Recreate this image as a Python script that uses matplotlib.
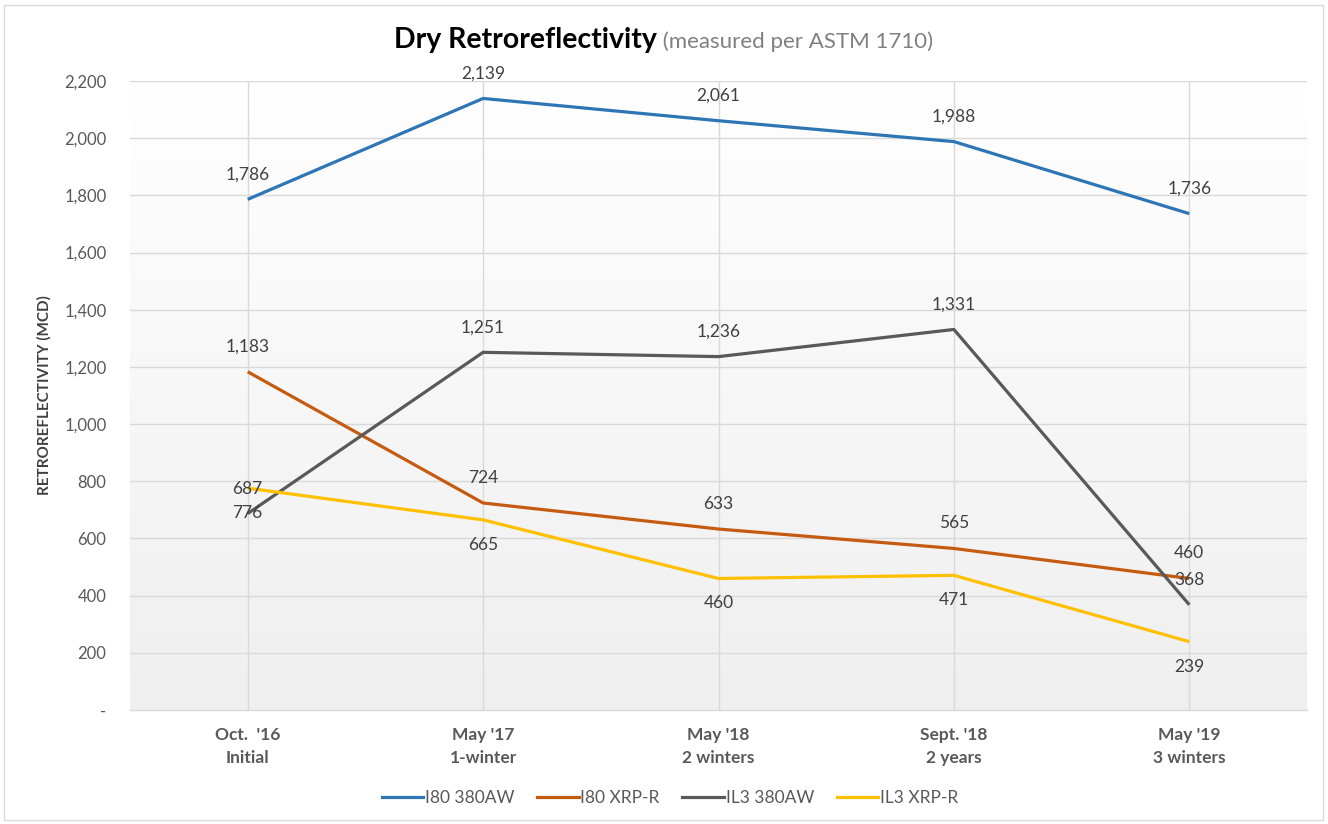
import matplotlib
matplotlib.use("Agg")
import matplotlib.pyplot as plt
import numpy as np
from matplotlib.patches import Rectangle
from matplotlib.offsetbox import TextArea, HPacker, AnchoredOffsetbox

plt.rcParams['font.family'] = ['Lato', 'DejaVu Sans']

categories = ["Oct.  '16\nInitial", "May '17\n1-winter", "May '18\n2 winters", "Sept. '18\n2 years", "May '19\n3 winters"]
series_names = ["I80 380AW", "I80 XRP-R", "IL3 380AW", "IL3 XRP-R"]
i80_380aw = [1786, 2139, 2061, 1988, 1736]
i80_xrpr = [1183, 724, 633, 565, 460]
il3_380aw = [687, 1251, 1236, 1331, 368]
il3_xrpr = [776, 665, 460, 471, 239]
yticks = [0, 200, 400, 600, 800, 1000, 1200, 1400, 1600, 1800, 2000, 2200]

series = [i80_380aw, i80_xrpr, il3_380aw, il3_xrpr]
colors = ["#2E75B6", "#C55A11", "#595959", "#FFC000"]
label_pos = ["above", "above", "above", "below"]

W, H = 1328, 824
fig = plt.figure(figsize=(W/100, H/100), dpi=100)
fig.patch.set_facecolor("white")
fig.add_artist(Rectangle((4/W, 4/H), (W-9)/W, (H-9)/H, transform=fig.transFigure,
                         fill=False, edgecolor="#d9d9d9", linewidth=1.0))

left, right, top, bottom = 130, 1307, 81, 710
ax = fig.add_axes([left/W, 1-bottom/H, (right-left)/W, (bottom-top)/H])
x = np.arange(len(categories))
ax.set_xlim(-0.5, 4.5)
ax.set_ylim(0, 2200)

grad = np.linspace(1.0, 0.0, 256).reshape(-1, 1)
cmap = matplotlib.colors.LinearSegmentedColormap.from_list("g", ["#efefef", "#ffffff"])
ax.imshow(grad, extent=[0, 1, 0, 1], transform=ax.transAxes, aspect="auto",
          cmap=cmap, zorder=0, origin="upper")
ax.set_facecolor("white")

for t in yticks[1:]:
    ax.axhline(t, color="#d9d9d9", lw=1.0, zorder=1)
for xi in x:
    ax.axvline(xi, color="#d9d9d9", lw=1.0, zorder=1)

for s, c in zip(series, colors):
    ax.plot(x, s, color=c, lw=2.3, zorder=3, solid_capstyle="butt")

for s, pos in zip(series, label_pos):
    for xi, v in zip(x, s):
        off = 18 if pos == "above" else -18
        ax.annotate(f"{v:,}", (xi, v), xytext=(0, off), textcoords="offset points",
                    ha="center", va="center", fontsize=12.5, color="#404040", zorder=4)

for sp in ["top", "right", "left"]:
    ax.spines[sp].set_visible(False)
ax.spines["bottom"].set_color("#d9d9d9")
ax.spines["bottom"].set_linewidth(1.0)

ax.set_yticks(yticks)
ax.set_yticklabels(["-" if t == 0 else f"{t:,}" for t in yticks], fontsize=12, color="#595959")
ax.set_xticks(x)
ax.set_xticklabels(categories, fontsize=12.5, color="#595959", fontweight="bold", linespacing=1.55)
ax.tick_params(axis="both", length=0)
ax.tick_params(axis="y", pad=17)
ax.tick_params(axis="x", pad=12)

ax.set_ylabel("RETROREFLECTIVITY (MCD)", fontsize=11, fontweight="bold", color="#404040", labelpad=9)

ta1 = TextArea("Dry Retroreflectivity", textprops=dict(fontsize=20.5, fontweight="bold", color="black"))
ta2 = TextArea(" (measured per ASTM 1710)", textprops=dict(fontsize=16, color="#808080"))
box = HPacker(children=[ta1, ta2], align="baseline", pad=0, sep=0)
ab = AnchoredOffsetbox(loc="center", child=box, frameon=False, bbox_to_anchor=(0.5, 1-40/H),
                       bbox_transform=fig.transFigure, borderpad=0, pad=0)
fig.add_artist(ab)

handles = [plt.Line2D([0], [0], color=c, lw=2.3) for c in colors]
fig.legend(handles, series_names, loc="center", bbox_to_anchor=(670/W, 1-798/H), ncol=4,
           frameon=False, fontsize=12.5, handlelength=2.4, columnspacing=1.3, handletextpad=0.1,
           labelcolor="#595959")

fig.savefig("out.png", dpi=100)
